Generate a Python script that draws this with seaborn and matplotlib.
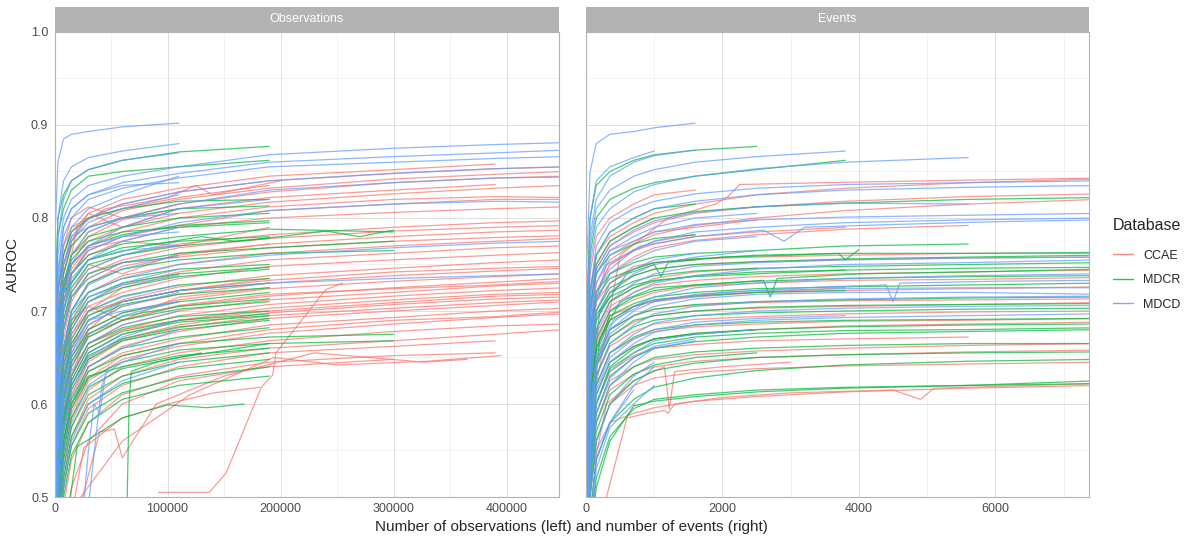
#curvas de aprendizado - AUROC

import seaborn as sns
import matplotlib
matplotlib.use("Agg")
import matplotlib.pyplot as plt
import pandas as pd
import numpy as np
from matplotlib.patches import Rectangle
from matplotlib.lines import Line2D

bases = ["CCAE", "MDCR", "MDCD"]
cores = ["#F8766D", "#00BA38", "#619CFF"]
paineis = ["Observations", "Events"]

# eixo x compartilhado pelas curvas (cada curva termina onde a lista acaba)
obs_x = [500, 3000, 8000, 15000, 30000, 60000, 110000, 190000, 300000, 390000, 450000]
evt_x = [10, 60, 150, 350, 700, 1000, 1600, 2500, 3800, 5600, 7500]

ccae_obs = [
  [0.62, 0.72, 0.76, 0.785, 0.805, 0.82, 0.832, 0.845, 0.852, 0.858],
  [0.60, 0.70, 0.75, 0.775, 0.80, 0.815, 0.828, 0.84, 0.848, 0.853, 0.855],
  [0.58, 0.69, 0.74, 0.77, 0.79, 0.808, 0.82, 0.832, 0.842, 0.847, 0.85],
  [0.57, 0.68, 0.73, 0.76, 0.785, 0.80, 0.815, 0.828, 0.838, 0.843, 0.845],
  [0.55, 0.66, 0.72, 0.75, 0.78, 0.798, 0.81, 0.822, 0.83, 0.836],
  [0.56, 0.67, 0.725, 0.76, 0.775, 0.79, 0.805, 0.817, 0.826, 0.832, 0.835],
  [0.54, 0.65, 0.71, 0.745, 0.77, 0.785, 0.80, 0.812, 0.82, 0.823, 0.822],
  [0.55, 0.64, 0.70, 0.74, 0.765, 0.78, 0.792, 0.808, 0.815, 0.82, 0.82],
  [0.52, 0.62, 0.68, 0.72, 0.745, 0.76, 0.772, 0.782, 0.79, 0.795, 0.797],
  [0.53, 0.61, 0.67, 0.71, 0.74, 0.755, 0.768, 0.778, 0.786, 0.79, 0.792],
  [0.50, 0.60, 0.66, 0.70, 0.73, 0.748, 0.76, 0.772, 0.78, 0.785, 0.787],
  [0.51, 0.59, 0.65, 0.69, 0.72, 0.738, 0.75, 0.762, 0.77, 0.775, 0.778],
  [0.49, 0.58, 0.64, 0.685, 0.71, 0.728, 0.742, 0.755, 0.762, 0.768, 0.77],
  [0.48, 0.57, 0.63, 0.675, 0.705, 0.72, 0.735, 0.748, 0.755, 0.76, 0.763],
  [0.47, 0.56, 0.62, 0.665, 0.695, 0.712, 0.726, 0.738, 0.746, 0.752, 0.755],
  [0.46, 0.56, 0.61, 0.655, 0.685, 0.705, 0.718, 0.73, 0.738, 0.743, 0.746],
  [0.46, 0.55, 0.60, 0.645, 0.68, 0.698, 0.712, 0.724, 0.732, 0.737, 0.74],
  [0.45, 0.54, 0.60, 0.64, 0.672, 0.69, 0.705, 0.716, 0.725, 0.731, 0.735],
  [0.44, 0.53, 0.59, 0.635, 0.665, 0.685, 0.70, 0.712, 0.72, 0.727, 0.73],
  [0.43, 0.52, 0.58, 0.625, 0.66, 0.68, 0.695, 0.707, 0.716, 0.722, 0.725],
  [0.43, 0.52, 0.575, 0.62, 0.655, 0.675, 0.69, 0.703, 0.712, 0.718, 0.72],
  [0.42, 0.51, 0.57, 0.61, 0.648, 0.67, 0.685, 0.698, 0.707, 0.713, 0.715],
  [0.41, 0.50, 0.56, 0.60, 0.64, 0.662, 0.678, 0.692, 0.70, 0.706, 0.71],
  [0.40, 0.49, 0.55, 0.595, 0.635, 0.655, 0.67, 0.685, 0.693, 0.70, 0.703],
  [0.40, 0.48, 0.54, 0.585, 0.625, 0.648, 0.662, 0.676, 0.686, 0.693, 0.697],
  [0.39, 0.47, 0.53, 0.575, 0.615, 0.64, 0.655, 0.668, 0.678, 0.684, 0.686],
  [0.38, 0.46, 0.52, 0.565, 0.605, 0.63, 0.648, 0.66, 0.668, 0.675, 0.68],
  [0.37, 0.45, 0.51, 0.555, 0.595, 0.62, 0.64, 0.655, 0.662, 0.668],
  [0.35, 0.43, 0.49, 0.54, 0.58, 0.61, 0.63, 0.645, 0.652, 0.655],
  [0.30, 0.40, 0.46, 0.51, 0.56, 0.60, 0.625, 0.64, 0.648],
  [0.60, 0.72, 0.77, 0.80, 0.812, 0.80, 0.815],
  [0.58, 0.70, 0.76, 0.79, 0.80, 0.81, 0.822, 0.835],
  [0.45, 0.55, 0.62, 0.66, 0.70, 0.725, 0.74],
  [0.40, 0.50, 0.58, 0.63, 0.68, 0.71, 0.722, 0.735],
  [0.56, 0.66, 0.72, 0.74, 0.768, 0.775, 0.79, 0.80, 0.806, 0.81, 0.812],
  [0.50, 0.63, 0.68, 0.715, 0.735, 0.752, 0.758, 0.768, 0.775, 0.779, 0.781],
  [0.47, 0.57, 0.64, 0.675, 0.70, 0.71, 0.722, 0.733, 0.742, 0.746, 0.748],
  [0.44, 0.55, 0.61, 0.652, 0.676, 0.69, 0.706, 0.718, 0.724, 0.728, 0.732],
  [0.42, 0.53, 0.59, 0.63, 0.665, 0.68, 0.69, 0.70, 0.709, 0.716, 0.718],
  [0.41, 0.51, 0.57, 0.608, 0.645, 0.668, 0.682, 0.695, 0.703, 0.709, 0.712],
  [0.39, 0.49, 0.55, 0.59, 0.628, 0.652, 0.665, 0.68, 0.69, 0.694, 0.699],
  [0.52, 0.64, 0.70, 0.74, 0.76, 0.775, 0.77, 0.79],
  [0.55, 0.68, 0.74, 0.775, 0.805, 0.79, 0.81],
  [0.50, 0.62, 0.69, 0.72, 0.75, 0.74, 0.762, 0.772],
  [0.46, 0.58, 0.65, 0.69, 0.705, 0.69, 0.715, 0.725],
]
ccae_obs_extra = [
  ([92000, 137000, 152000, 183000, 193000, 196000, 240000, 255000],
   [0.505, 0.505, 0.526, 0.618, 0.631, 0.655, 0.723, 0.73]),
  ([15000, 26000, 60000, 100000, 141000, 182000],
   [0.48, 0.553, 0.585, 0.60, 0.612, 0.618]),
  ([17000, 60000, 120000, 194000, 250000, 330000, 395000],
   [0.49, 0.56, 0.61, 0.65, 0.642, 0.646, 0.652]),
  ([25000, 40000, 53000, 60000, 90000, 150000, 230000, 327000, 365000],
   [0.50, 0.57, 0.573, 0.542, 0.60, 0.63, 0.655, 0.645, 0.648]),
  ([5000, 20000, 45000, 70000, 100000, 125000, 140000, 200000],
   [0.70, 0.79, 0.81, 0.815, 0.822, 0.835, 0.825, 0.84]),
]

mdcr_obs = [
  [0.70, 0.80, 0.825, 0.84, 0.852, 0.862, 0.871, 0.877],
  [0.68, 0.78, 0.81, 0.83, 0.845, 0.85, 0.855, 0.862],
  [0.62, 0.72, 0.76, 0.785, 0.80, 0.81, 0.818, 0.82],
  [0.60, 0.70, 0.74, 0.77, 0.79, 0.80, 0.81, 0.813],
  [0.58, 0.68, 0.73, 0.76, 0.78, 0.79, 0.80, 0.805],
  [0.57, 0.67, 0.72, 0.75, 0.77, 0.782, 0.792, 0.797],
  [0.55, 0.66, 0.71, 0.74, 0.76, 0.772, 0.78, 0.788, 0.785],
  [0.55, 0.65, 0.70, 0.73, 0.755, 0.768, 0.775, 0.78],
  [0.52, 0.62, 0.68, 0.715, 0.74, 0.752, 0.762, 0.768, 0.775],
  [0.50, 0.60, 0.66, 0.70, 0.73, 0.745, 0.755, 0.762, 0.765],
  [0.50, 0.60, 0.655, 0.695, 0.72, 0.735, 0.745, 0.75],
  [0.48, 0.58, 0.64, 0.68, 0.71, 0.725, 0.737, 0.745],
  [0.47, 0.57, 0.63, 0.67, 0.70, 0.716, 0.728, 0.735],
  [0.46, 0.56, 0.62, 0.66, 0.69, 0.707, 0.718, 0.725],
  [0.45, 0.55, 0.61, 0.65, 0.68, 0.698, 0.71, 0.72],
  [0.44, 0.54, 0.60, 0.64, 0.672, 0.69, 0.702, 0.71],
  [0.43, 0.53, 0.59, 0.63, 0.665, 0.682, 0.694, 0.70],
  [0.42, 0.52, 0.58, 0.62, 0.655, 0.675, 0.688, 0.695],
  [0.41, 0.51, 0.57, 0.615, 0.648, 0.668, 0.68, 0.69],
  [0.40, 0.50, 0.56, 0.605, 0.64, 0.66, 0.672, 0.682],
  [0.40, 0.50, 0.56, 0.60, 0.635, 0.652, 0.665, 0.672, 0.675],
  [0.39, 0.49, 0.55, 0.595, 0.628, 0.645, 0.658, 0.665, 0.668],
  [0.38, 0.48, 0.54, 0.585, 0.618, 0.638, 0.65, 0.665],
  [0.37, 0.47, 0.53, 0.575, 0.61, 0.63, 0.645, 0.655],
  [0.36, 0.46, 0.52, 0.565, 0.60, 0.622, 0.638, 0.648],
  [0.35, 0.45, 0.51, 0.555, 0.59, 0.612, 0.628, 0.64],
  [0.34, 0.44, 0.50, 0.545, 0.58, 0.605, 0.62, 0.63],
  [0.58, 0.69, 0.725, 0.755, 0.775, 0.785, 0.79, 0.795],
  [0.53, 0.64, 0.69, 0.725, 0.75, 0.76, 0.77, 0.778],
  [0.49, 0.59, 0.65, 0.685, 0.715, 0.73, 0.74, 0.747],
  [0.46, 0.57, 0.625, 0.665, 0.695, 0.71, 0.722, 0.73],
  [0.44, 0.55, 0.605, 0.645, 0.675, 0.694, 0.705, 0.713],
  [0.42, 0.53, 0.585, 0.625, 0.66, 0.678, 0.69, 0.697],
  [0.41, 0.52, 0.575, 0.62, 0.652, 0.67, 0.683, 0.692],
  [0.40, 0.50, 0.55, 0.60, 0.63, 0.64, 0.652, 0.66],
]
mdcr_obs_extra = [
  ([12000, 20000, 60000, 100000, 135000, 168000],
   [0.48, 0.554, 0.585, 0.599, 0.596, 0.60]),
  ([64000, 66000, 68000, 90000, 130000],
   [0.48, 0.60, 0.635, 0.645, 0.655]),
  ([1000, 8000, 30000, 80000, 130000, 160000, 200000, 240000, 270000, 300000],
   [0.62, 0.72, 0.755, 0.77, 0.78, 0.775, 0.78, 0.786, 0.78, 0.787]),
]

mdcd_obs = [
  [0.78, 0.86, 0.885, 0.89, 0.893, 0.898, 0.902],
  [0.70, 0.80, 0.84, 0.855, 0.865, 0.872, 0.88],
  [0.68, 0.78, 0.82, 0.84, 0.852, 0.862, 0.87],
  [0.66, 0.76, 0.80, 0.82, 0.835, 0.845, 0.855, 0.868, 0.875, 0.879, 0.881],
  [0.64, 0.74, 0.79, 0.81, 0.825, 0.838, 0.848, 0.86, 0.866, 0.87, 0.873],
  [0.63, 0.73, 0.78, 0.80, 0.82, 0.832, 0.843, 0.855, 0.86, 0.864, 0.866],
  [0.60, 0.70, 0.75, 0.78, 0.80, 0.815, 0.828, 0.84, 0.848, 0.853, 0.855],
  [0.62, 0.72, 0.77, 0.79, 0.81, 0.825, 0.845],
  [0.58, 0.68, 0.73, 0.76, 0.785, 0.80, 0.815, 0.83, 0.838, 0.843, 0.844],
  [0.60, 0.70, 0.75, 0.775, 0.795, 0.81, 0.825],
  [0.56, 0.66, 0.71, 0.74, 0.765, 0.78, 0.795, 0.808, 0.815, 0.818, 0.817],
  [0.56, 0.67, 0.72, 0.75, 0.77, 0.79, 0.81, 0.82],
  [0.55, 0.65, 0.70, 0.73, 0.755, 0.775, 0.79],
  [0.52, 0.62, 0.68, 0.72, 0.745, 0.76, 0.775],
  [0.50, 0.60, 0.66, 0.70, 0.72, 0.735, 0.75, 0.76, 0.768, 0.773, 0.775],
  [0.50, 0.60, 0.66, 0.70, 0.728, 0.745, 0.76],
  [0.48, 0.58, 0.64, 0.68, 0.71, 0.73, 0.745],
  [0.46, 0.56, 0.62, 0.66, 0.69, 0.71, 0.722, 0.73, 0.735, 0.738, 0.74],
  [0.46, 0.55, 0.61, 0.65, 0.685, 0.705, 0.72],
  [0.44, 0.53, 0.60, 0.64, 0.675, 0.695, 0.71],
  [0.43, 0.52, 0.59, 0.63, 0.665, 0.685, 0.70],
  [0.42, 0.50, 0.57, 0.615, 0.65, 0.672, 0.69],
  [0.40, 0.48, 0.55, 0.60, 0.64, 0.66, 0.68],
  [0.38, 0.46, 0.53, 0.58, 0.62, 0.645, 0.665],
  [0.36, 0.44, 0.51, 0.56, 0.60, 0.625, 0.645],
  [0.62, 0.74, 0.79, 0.81, 0.825, 0.835, 0.838],
  [0.58, 0.70, 0.75, 0.78, 0.79, 0.80, 0.805],
  [0.55, 0.66, 0.72, 0.75, 0.77, 0.78, 0.785],
  [0.53, 0.64, 0.70, 0.735, 0.755, 0.765, 0.77],
  [0.51, 0.62, 0.68, 0.715, 0.735, 0.752, 0.758],
  [0.49, 0.60, 0.66, 0.69, 0.715, 0.728, 0.738],
  [0.47, 0.57, 0.63, 0.67, 0.70, 0.715, 0.728],
  [0.45, 0.55, 0.61, 0.655, 0.69, 0.70, 0.71],
  [0.41, 0.51, 0.575, 0.62, 0.655, 0.675],
]
mdcd_obs_extra = [
  ([25000, 30000, 35000, 40000, 45000], [0.48, 0.55, 0.60, 0.59, 0.63]),
  ([30000, 38000, 42000, 48000], [0.49, 0.58, 0.62, 0.64]),
]

ccae_evt = [
  [0.62, 0.72, 0.76, 0.78, 0.795, 0.805, 0.815, 0.825, 0.832, 0.838, 0.842],
  [0.60, 0.70, 0.745, 0.77, 0.785, 0.795, 0.805, 0.812, 0.818, 0.823, 0.826],
  [0.58, 0.68, 0.73, 0.755, 0.772, 0.782, 0.792, 0.80, 0.808, 0.815, 0.82],
  [0.56, 0.66, 0.71, 0.74, 0.758, 0.768, 0.776, 0.782, 0.788, 0.792],
  [0.64, 0.74, 0.78, 0.80, 0.815, 0.825, 0.83],
  [0.55, 0.65, 0.70, 0.73, 0.748, 0.752, 0.756, 0.758, 0.76, 0.762, 0.762],
  [0.54, 0.64, 0.69, 0.72, 0.738, 0.745, 0.75, 0.753, 0.755, 0.757, 0.758],
  [0.52, 0.62, 0.675, 0.705, 0.72, 0.728, 0.733, 0.737, 0.74, 0.742, 0.744],
  [0.50, 0.60, 0.66, 0.69, 0.705, 0.712, 0.717, 0.72, 0.722, 0.724, 0.726],
  [0.49, 0.59, 0.65, 0.68, 0.695, 0.702, 0.706, 0.709, 0.711, 0.712, 0.713],
  [0.48, 0.58, 0.64, 0.672, 0.688, 0.695, 0.70, 0.703, 0.705, 0.707, 0.709],
  [0.47, 0.57, 0.63, 0.662, 0.678, 0.686, 0.691, 0.694, 0.697, 0.699, 0.70],
  [0.45, 0.55, 0.61, 0.645, 0.662, 0.67, 0.676, 0.68, 0.684, 0.686, 0.688],
  [0.43, 0.53, 0.59, 0.625, 0.64, 0.648, 0.653, 0.657, 0.66, 0.663, 0.665],
  [0.42, 0.52, 0.58, 0.615, 0.632, 0.64, 0.646, 0.65, 0.653, 0.656, 0.658],
  [0.40, 0.50, 0.56, 0.60, 0.62, 0.628, 0.634, 0.638, 0.641, 0.643, 0.645],
  [0.38, 0.48, 0.54, 0.58, 0.59, 0.596, 0.603, 0.608, 0.613, 0.617, 0.62],
  [0.60, 0.70, 0.75, 0.775, 0.79, 0.80],
  [0.58, 0.68, 0.72, 0.75, 0.765, 0.775, 0.782],
  [0.53, 0.63, 0.68, 0.71, 0.725, 0.735, 0.742, 0.746],
  [0.57, 0.67, 0.72, 0.75, 0.765, 0.772, 0.78, 0.785, 0.79],
  [0.51, 0.61, 0.665, 0.70, 0.712, 0.72, 0.727, 0.73, 0.733, 0.734, 0.736],
  [0.46, 0.56, 0.62, 0.655, 0.67, 0.678, 0.683, 0.686, 0.689, 0.69, 0.692],
  [0.44, 0.54, 0.60, 0.635, 0.652, 0.66, 0.664, 0.668, 0.67, 0.672],
  [0.59, 0.69, 0.74, 0.765, 0.775, 0.785, 0.79, 0.798],
  [0.55, 0.66, 0.71, 0.73, 0.745, 0.752, 0.755],
  [0.50, 0.61, 0.66, 0.695, 0.705, 0.71, 0.715, 0.72, 0.725],
]
ccae_evt_extra = [
  ([300, 600, 900, 1150, 1200, 1300, 2000, 3000, 4500, 4900, 5100, 7500],
   [0.50, 0.585, 0.59, 0.593, 0.59, 0.60, 0.607, 0.612, 0.615, 0.605, 0.617, 0.622]),
  ([100, 500, 1200, 1900, 2080, 2250, 3500, 5000, 7500],
   [0.60, 0.76, 0.80, 0.815, 0.823, 0.836, 0.838, 0.84, 0.843]),
  ([80, 300, 700, 1150, 1220, 1300, 2000, 3000],
   [0.52, 0.60, 0.625, 0.64, 0.595, 0.635, 0.64, 0.645]),
]

mdcr_evt = [
  [0.70, 0.80, 0.835, 0.85, 0.862, 0.868, 0.873, 0.877],
  [0.65, 0.76, 0.80, 0.82, 0.832, 0.838, 0.845, 0.852, 0.862],
  [0.60, 0.70, 0.75, 0.775, 0.79, 0.80, 0.807, 0.812, 0.816, 0.82, 0.822],
  [0.58, 0.68, 0.72, 0.74, 0.752, 0.758, 0.762, 0.765, 0.77, 0.772],
  [0.56, 0.66, 0.70, 0.725, 0.738, 0.745, 0.75, 0.753, 0.756, 0.758, 0.76],
  [0.55, 0.65, 0.695, 0.72, 0.732, 0.738, 0.743, 0.746, 0.748, 0.75, 0.752],
  [0.53, 0.63, 0.68, 0.71, 0.725, 0.732, 0.738, 0.742, 0.744, 0.746, 0.747],
  [0.52, 0.62, 0.67, 0.70, 0.715, 0.722, 0.728, 0.732, 0.735, 0.737, 0.738],
  [0.50, 0.60, 0.655, 0.69, 0.705, 0.712, 0.716, 0.72, 0.722],
  [0.49, 0.59, 0.645, 0.68, 0.695, 0.702, 0.707, 0.71, 0.712, 0.714, 0.715],
  [0.47, 0.57, 0.63, 0.665, 0.683, 0.69, 0.695, 0.698, 0.70, 0.702, 0.703],
  [0.46, 0.56, 0.62, 0.655, 0.672, 0.68, 0.685, 0.688, 0.69, 0.691, 0.692],
  [0.45, 0.55, 0.61, 0.645, 0.662, 0.67, 0.676, 0.68, 0.683, 0.685, 0.686],
  [0.43, 0.53, 0.59, 0.63, 0.65, 0.66, 0.667, 0.672, 0.676, 0.678, 0.68],
  [0.42, 0.52, 0.58, 0.62, 0.64, 0.65, 0.656, 0.66, 0.663, 0.665, 0.665],
  [0.40, 0.50, 0.56, 0.60, 0.625, 0.636, 0.644, 0.65, 0.653, 0.655, 0.656],
  [0.38, 0.48, 0.54, 0.58, 0.605, 0.618, 0.628, 0.636, 0.642, 0.646, 0.648],
  [0.36, 0.46, 0.52, 0.565, 0.595, 0.605, 0.61, 0.615, 0.618, 0.62, 0.622],
  [0.35, 0.45, 0.51, 0.56, 0.598, 0.603, 0.608, 0.613, 0.617, 0.62, 0.625],
  [0.62, 0.72, 0.76, 0.785, 0.80, 0.81, 0.815],
  [0.44, 0.54, 0.60, 0.64, 0.66, 0.67, 0.675, 0.68],
  [0.57, 0.67, 0.715, 0.735, 0.745, 0.752, 0.756, 0.76, 0.762, 0.762, 0.763],
  [0.51, 0.61, 0.66, 0.695, 0.708, 0.715, 0.72, 0.724, 0.726, 0.728, 0.73],
  [0.48, 0.58, 0.64, 0.672, 0.69, 0.695, 0.70, 0.704, 0.706, 0.707, 0.708],
  [0.44, 0.54, 0.60, 0.638, 0.655, 0.665, 0.672, 0.676, 0.679, 0.68, 0.682],
  [0.41, 0.51, 0.57, 0.61, 0.632, 0.642, 0.65, 0.655],
  [0.60, 0.70, 0.74, 0.76, 0.772, 0.778, 0.782],
  [0.54, 0.64, 0.69, 0.715, 0.728, 0.733, 0.737, 0.74, 0.744],
]
mdcr_evt_extra = [
  ([50, 200, 500, 1000, 2000, 2600, 2700, 2800, 4000, 5600, 7500],
   [0.55, 0.67, 0.71, 0.725, 0.73, 0.733, 0.715, 0.735, 0.74, 0.742, 0.745]),
  ([40, 200, 600, 1000, 1100, 1200, 2000, 3000, 3700, 3800, 4000],
   [0.58, 0.70, 0.74, 0.75, 0.737, 0.752, 0.758, 0.76, 0.762, 0.755, 0.766]),
]

mdcd_evt = [
  [0.75, 0.85, 0.88, 0.89, 0.893, 0.897, 0.902],
  [0.70, 0.80, 0.84, 0.855, 0.865, 0.872],
  [0.68, 0.78, 0.82, 0.845, 0.86, 0.867, 0.873],
  [0.66, 0.77, 0.81, 0.83, 0.845, 0.852, 0.86, 0.866, 0.872],
  [0.64, 0.75, 0.79, 0.81, 0.828, 0.836, 0.845, 0.853, 0.86, 0.865],
  [0.62, 0.72, 0.77, 0.795, 0.81, 0.818, 0.826, 0.832, 0.836, 0.838, 0.84],
  [0.61, 0.71, 0.76, 0.785, 0.80, 0.81, 0.818, 0.825, 0.83, 0.833, 0.835],
  [0.60, 0.70, 0.745, 0.77, 0.787, 0.797, 0.806, 0.812, 0.816, 0.815],
  [0.58, 0.68, 0.73, 0.76, 0.775, 0.785, 0.793, 0.798, 0.801, 0.803, 0.805],
  [0.57, 0.67, 0.72, 0.745, 0.765, 0.775, 0.785, 0.79, 0.795, 0.798, 0.80],
  [0.56, 0.66, 0.71, 0.74, 0.755, 0.765, 0.775, 0.78],
  [0.54, 0.64, 0.69, 0.72, 0.74, 0.75, 0.758, 0.765],
  [0.52, 0.62, 0.67, 0.70, 0.72, 0.73, 0.738, 0.745, 0.75, 0.752, 0.755],
  [0.50, 0.60, 0.65, 0.685, 0.705, 0.715, 0.725, 0.73, 0.735, 0.738, 0.74],
  [0.48, 0.58, 0.64, 0.675, 0.695, 0.705, 0.713, 0.718, 0.72, 0.72, 0.718],
  [0.47, 0.57, 0.63, 0.665, 0.685, 0.697, 0.705, 0.71, 0.713, 0.715, 0.716],
  [0.46, 0.56, 0.62, 0.655, 0.675, 0.687, 0.695, 0.70, 0.703, 0.705, 0.706],
  [0.45, 0.55, 0.61, 0.645, 0.665, 0.677, 0.685, 0.69, 0.693, 0.695, 0.697],
  [0.44, 0.54, 0.60, 0.635, 0.655, 0.668, 0.675, 0.68],
  [0.42, 0.52, 0.58, 0.62, 0.645, 0.66, 0.668],
  [0.40, 0.50, 0.56, 0.60, 0.63, 0.645],
  [0.38, 0.48, 0.54, 0.58, 0.615],
  [0.36, 0.46, 0.53, 0.575, 0.60, 0.62],
  [0.30, 0.45, 0.55, 0.58, 0.62, 0.64],
  [0.59, 0.69, 0.74, 0.765, 0.78, 0.79, 0.80, 0.805],
  [0.53, 0.63, 0.68, 0.71, 0.73, 0.74, 0.748, 0.752, 0.755, 0.757, 0.758],
  [0.49, 0.59, 0.645, 0.68, 0.70, 0.71, 0.718, 0.722, 0.724, 0.725, 0.725],
  [0.455, 0.555, 0.615, 0.65, 0.67, 0.68, 0.688, 0.692, 0.695],
  [0.43, 0.53, 0.59, 0.628, 0.65, 0.662, 0.67],
  [0.55, 0.65, 0.70, 0.73, 0.745, 0.755, 0.762],
]
mdcd_evt_extra = [
  ([20, 100, 300, 800, 1600, 2600, 2900, 3200, 4500, 6000, 7500],
   [0.58, 0.70, 0.75, 0.77, 0.78, 0.787, 0.775, 0.79, 0.793, 0.796, 0.798]),
  ([30, 150, 400, 900, 2000, 3500, 4400, 4500, 4600, 6000, 7500],
   [0.52, 0.64, 0.69, 0.71, 0.72, 0.726, 0.728, 0.71, 0.73, 0.732, 0.733]),
]


def montar(grade, curvas, extras, base, painel):
  linhas = []
  for i, ys in enumerate(curvas):
    for x, y in zip(grade, ys):
      linhas.append((painel, base, f"{base}_{i}", x, y))
  for j, (xs, ys) in enumerate(extras):
    for x, y in zip(xs, ys):
      linhas.append((painel, base, f"{base}_e{j}", x, y))
  return linhas


dados = []
dados += montar(obs_x, ccae_obs, ccae_obs_extra, "CCAE", "Observations")
dados += montar(obs_x, mdcr_obs, mdcr_obs_extra, "MDCR", "Observations")
dados += montar(obs_x, mdcd_obs, mdcd_obs_extra, "MDCD", "Observations")
dados += montar(evt_x, ccae_evt, ccae_evt_extra, "CCAE", "Events")
dados += montar(evt_x, mdcr_evt, mdcr_evt_extra, "MDCR", "Events")
dados += montar(evt_x, mdcd_evt, mdcd_evt_extra, "MDCD", "Events")
df = pd.DataFrame(dados, columns=["painel", "Database", "curva", "n", "AUROC"])

sns.set_theme(style="white")
plt.rcParams["font.family"] = ["Liberation Sans", "DejaVu Sans"]

fig = plt.figure(figsize=(11.92, 5.39), dpi=100)
ax1 = fig.add_axes([54.5 / 1192, 42 / 539, 504 / 1192, 465 / 539])
ax2 = fig.add_axes([586 / 1192, 42 / 539, 503 / 1192, 465 / 539])

limites = {"Observations": 446000, "Events": 7370}
ticks_maj = {"Observations": [0, 100000, 200000, 300000, 400000],
             "Events": [0, 2000, 4000, 6000]}
ticks_min = {"Observations": [50000, 150000, 250000, 350000],
             "Events": [1000, 3000, 5000, 7000]}

for ax, painel in zip([ax1, ax2], paineis):
  sub = df[df.painel == painel]
  sns.lineplot(data=sub, x="n", y="AUROC", hue="Database", units="curva",
               estimator=None, palette=dict(zip(bases, cores)),
               hue_order=bases, lw=0.9, alpha=0.72, ax=ax, legend=False)
  ax.set_xlim(0, limites[painel])
  ax.set_ylim(0.5, 1.0)
  ax.set_xticks(ticks_maj[painel])
  ax.set_xticklabels([str(t) for t in ticks_maj[painel]])
  ax.set_xticks(ticks_min[painel], minor=True)
  ax.set_yticks([0.5, 0.6, 0.7, 0.8, 0.9, 1.0])
  ax.set_yticks([0.55, 0.65, 0.75, 0.85, 0.95], minor=True)
  ax.grid(True, which="major", color="#DEDEDE", lw=0.7)
  ax.grid(True, which="minor", color="#EDEDED", lw=0.5)
  ax.set_axisbelow(True)
  for s in ax.spines.values():
    s.set_color("#B3B3B3")
    s.set_linewidth(0.8)
  ax.tick_params(axis="both", which="major", length=2.5, width=0.5,
                 color="#B3B3B3", labelsize=9, labelcolor="#4D4D4D", pad=2)
  ax.tick_params(axis="both", which="minor", length=0)
  ax.set_xlabel("")
  ax.set_ylabel("")
  # faixa do facet
  ax.add_patch(Rectangle((0, 1.0), 1, 25 / 465, transform=ax.transAxes,
                         facecolor="#B3B3B3", edgecolor="none", clip_on=False))
  ax.text(0.5, 1.0 + 12.5 / 465, painel, transform=ax.transAxes,
          ha="center", va="center", color="white", fontsize=9)

ax1.set_yticklabels(["0.5", "0.6", "0.7", "0.8", "0.9", "1.0"])
ax2.tick_params(axis="y", labelleft=False)

ax1.set_ylabel("AUROC", fontsize=11, labelpad=8)
fig.text((54.5 + 1089) / 2 / 1192, 12 / 539,
         "Number of observations (left) and number of events (right)",
         ha="center", va="center", fontsize=11)

alcas = [Line2D([0], [0], color=c, lw=1.0, alpha=0.85) for c in cores]
leg = fig.legend(alcas, bases, title="Database", loc="upper left",
                 bbox_to_anchor=(1113 / 1192, 1 - 218 / 539), frameon=False,
                 fontsize=9, title_fontsize=11.5, handlelength=1.6,
                 labelspacing=1.0, handletextpad=0.8, borderpad=0,
                 borderaxespad=0)
leg._legend_box.align = "left"
leg._legend_box.sep = 12

fig.savefig("out.png", dpi=100)
